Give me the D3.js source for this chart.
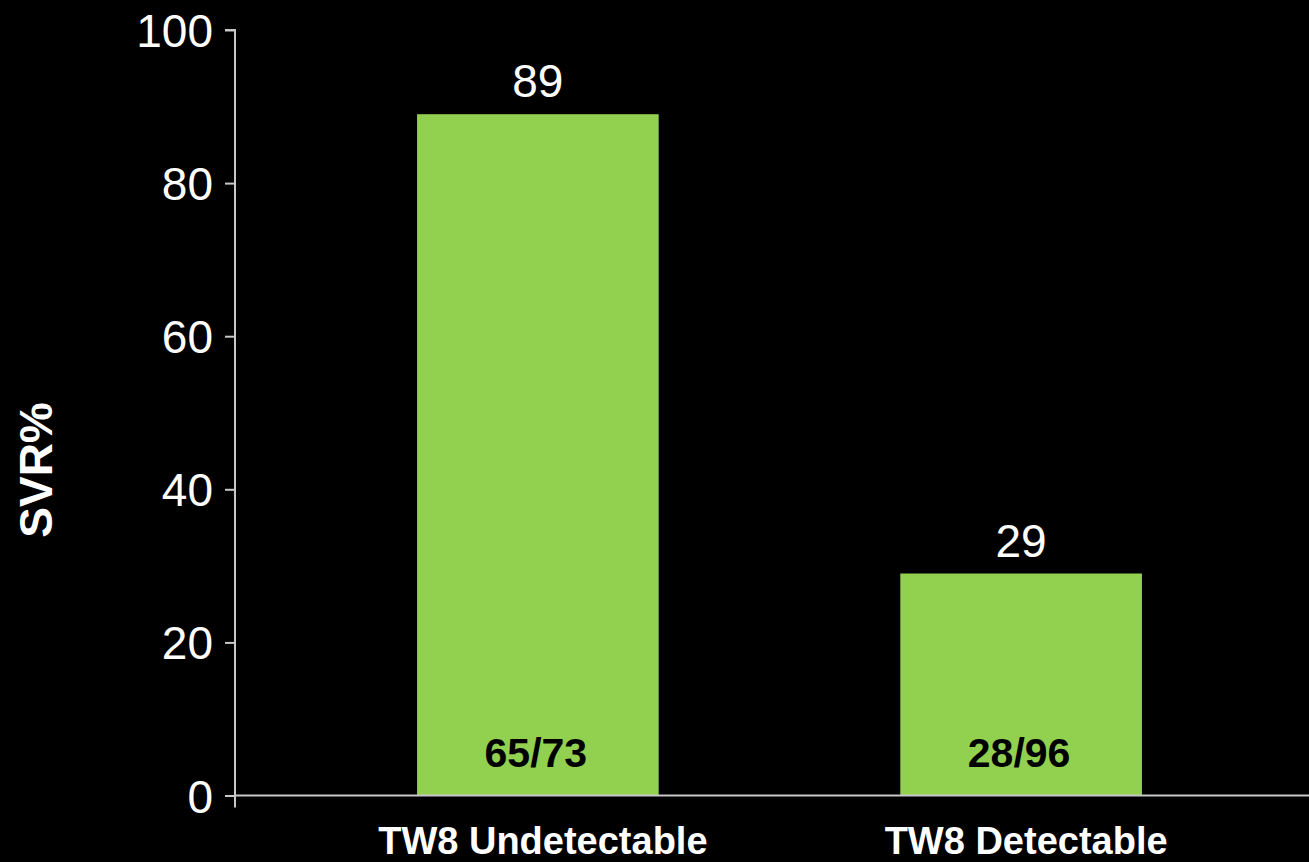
<!DOCTYPE html>
<html>
<head>
<meta charset="utf-8">
<script src="https://cdn.jsdelivr.net/npm/d3@7/dist/d3.min.js"></script>
<style>
  html, body { margin: 0; padding: 0; background: #000; }
  svg { display: block; }
  text { font-family: Arial, "Liberation Sans", Helvetica, sans-serif; }
</style>
</head>
<body>
<svg id="chart" width="1309" height="862"></svg>
<script>
// Sustained virological response by week-8 status
const categories = ["TW8 Undetectable", "TW8 Detectable"];
const svrPercent = [89, 29];
const responders = ["65/73", "28/96"];
const yTicks = [0, 20, 40, 60, 80, 100];
const yTitle = "SVR%";

const width = 1309, height = 862;
const axisX = 235, axisRight = 1309;
const svg = d3.select("#chart");

svg.append("rect").attr("width", width).attr("height", height).attr("fill", "#000");

const y = d3.scaleLinear().domain([0, 100]).range([795.5, 30]);
const x = d3.scaleBand()
  .domain(categories)
  .range([296.25, 1262.75])
  .paddingInner(0.5)
  .paddingOuter(0.25);

const axisColor = "#c8c8c8";

// bars
svg.selectAll("rect.bar")
  .data(categories)
  .join("rect")
  .attr("class", "bar")
  .attr("x", d => x(d))
  .attr("width", x.bandwidth())
  .attr("y", (d, i) => y(svrPercent[i]))
  .attr("height", (d, i) => y(0) - y(svrPercent[i]))
  .attr("fill", "#92d050");

// y axis
const yAxis = d3.axisLeft(y)
  .tickValues(yTicks)
  .tickSize(10)
  .tickPadding(12)
  .tickFormat(d3.format("d"));
const gy = svg.append("g").attr("transform", `translate(${axisX},0)`).call(yAxis);
gy.select(".domain").attr("stroke", axisColor).attr("stroke-width", 2)
  .attr("d", `M-10,${y(100)}H0V${y(0) + 12}`);
gy.selectAll(".tick line").attr("stroke", axisColor).attr("stroke-width", 2);
gy.selectAll(".tick text")
  .attr("fill", "#fff")
  .attr("font-size", 46)
  .attr("font-family", "Arial, 'Liberation Sans', sans-serif")
  .attr("dy", "0.36em");

// x axis baseline
svg.append("line")
  .attr("x1", axisX).attr("x2", axisRight)
  .attr("y1", y(0)).attr("y2", y(0))
  .attr("stroke", axisColor).attr("stroke-width", 2);

// value labels above bars
svg.selectAll("text.value")
  .data(categories)
  .join("text")
  .attr("class", "value")
  .attr("x", d => x(d) + x.bandwidth() / 2)
  .attr("y", (d, i) => y(svrPercent[i]) - 17)
  .attr("text-anchor", "middle")
  .attr("fill", "#fff")
  .attr("font-size", 46)
  .text((d, i) => svrPercent[i]);

// responder counts inside bars
svg.selectAll("text.count")
  .data(categories)
  .join("text")
  .attr("class", "count")
  .attr("x", d => x(d) + x.bandwidth() / 2 - 2)
  .attr("y", 767)
  .attr("text-anchor", "middle")
  .attr("fill", "#000")
  .attr("font-weight", "bold")
  .attr("font-size", 41)
  .text((d, i) => responders[i]);

// category labels
svg.selectAll("text.cat")
  .data(categories)
  .join("text")
  .attr("class", "cat")
  .attr("x", d => x(d) + x.bandwidth() / 2 + 5)
  .attr("y", 854)
  .attr("text-anchor", "middle")
  .attr("fill", "#fff")
  .attr("font-weight", "bold")
  .attr("font-size", 38)
  .text(d => d);

// y axis title
svg.append("text")
  .attr("transform", `translate(52,470) rotate(-90)`)
  .attr("text-anchor", "middle")
  .attr("fill", "#fff")
  .attr("font-weight", "bold")
  .attr("font-size", 46)
  .text(yTitle);
</script>
</body>
</html>
